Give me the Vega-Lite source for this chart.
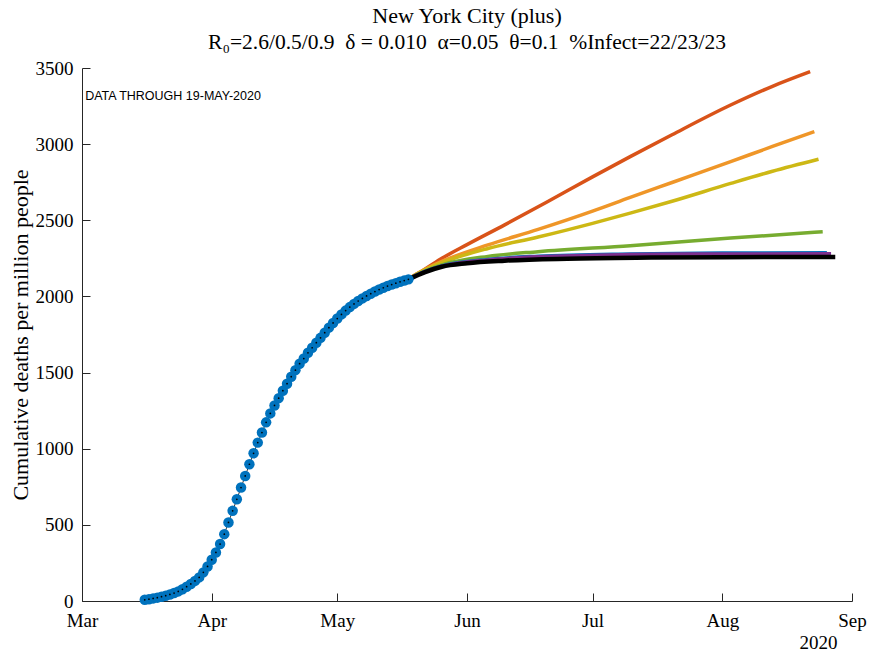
{
  "$schema": "https://vega.github.io/schema/vega-lite/v6.json",
  "width": 770,
  "height": 533,
  "autosize": "none",
  "padding": {"left": 82, "top": 68, "right": 19, "bottom": 53},
  "background": "white",
  "config": {"view": {"stroke": null}, "axis": {"grid": false}},
  "title": {
    "text": "New York City (plus)",
    "subtitle": "R₀=2.6/0.5/0.9\u00a0\u00a0δ = 0.010\u00a0\u00a0α=0.05\u00a0\u00a0θ=0.1\u00a0\u00a0%Infect=22/23/23",
    "font": "Liberation Serif",
    "fontSize": 22,
    "fontWeight": "normal",
    "color": "black",
    "subtitleFont": "Liberation Serif",
    "subtitleFontSize": 21.5,
    "subtitleColor": "black",
    "subtitlePadding": 4,
    "anchor": "middle",
    "offset": 5
  },
  "datasets": {
    "obs": [
      {"date": "2020-03-16T00:00:00", "value": 8},
      {"date": "2020-03-17T00:00:00", "value": 12},
      {"date": "2020-03-18T00:00:00", "value": 17},
      {"date": "2020-03-19T00:00:00", "value": 22},
      {"date": "2020-03-20T00:00:00", "value": 28},
      {"date": "2020-03-21T00:00:00", "value": 35},
      {"date": "2020-03-22T00:00:00", "value": 43},
      {"date": "2020-03-23T00:00:00", "value": 52},
      {"date": "2020-03-24T00:00:00", "value": 63},
      {"date": "2020-03-25T00:00:00", "value": 77},
      {"date": "2020-03-26T00:00:00", "value": 94},
      {"date": "2020-03-27T00:00:00", "value": 112},
      {"date": "2020-03-28T00:00:00", "value": 132},
      {"date": "2020-03-29T00:00:00", "value": 155},
      {"date": "2020-03-30T00:00:00", "value": 188},
      {"date": "2020-03-31T00:00:00", "value": 227},
      {"date": "2020-04-01T00:00:00", "value": 271},
      {"date": "2020-04-02T00:00:00", "value": 319},
      {"date": "2020-04-03T00:00:00", "value": 374},
      {"date": "2020-04-04T00:00:00", "value": 439},
      {"date": "2020-04-05T00:00:00", "value": 516},
      {"date": "2020-04-06T00:00:00", "value": 592},
      {"date": "2020-04-07T00:00:00", "value": 668},
      {"date": "2020-04-08T00:00:00", "value": 745},
      {"date": "2020-04-09T00:00:00", "value": 821},
      {"date": "2020-04-10T00:00:00", "value": 898},
      {"date": "2020-04-11T00:00:00", "value": 970},
      {"date": "2020-04-12T00:00:00", "value": 1040},
      {"date": "2020-04-13T00:00:00", "value": 1106},
      {"date": "2020-04-14T00:00:00", "value": 1173},
      {"date": "2020-04-15T00:00:00", "value": 1232},
      {"date": "2020-04-16T00:00:00", "value": 1284},
      {"date": "2020-04-17T00:00:00", "value": 1332},
      {"date": "2020-04-18T00:00:00", "value": 1381},
      {"date": "2020-04-19T00:00:00", "value": 1427},
      {"date": "2020-04-20T00:00:00", "value": 1473},
      {"date": "2020-04-21T00:00:00", "value": 1516},
      {"date": "2020-04-22T00:00:00", "value": 1558},
      {"date": "2020-04-23T00:00:00", "value": 1592},
      {"date": "2020-04-24T00:00:00", "value": 1630},
      {"date": "2020-04-25T00:00:00", "value": 1663},
      {"date": "2020-04-26T00:00:00", "value": 1696},
      {"date": "2020-04-27T00:00:00", "value": 1728},
      {"date": "2020-04-28T00:00:00", "value": 1762},
      {"date": "2020-04-29T00:00:00", "value": 1795},
      {"date": "2020-04-30T00:00:00", "value": 1826},
      {"date": "2020-05-01T00:00:00", "value": 1855},
      {"date": "2020-05-02T00:00:00", "value": 1882},
      {"date": "2020-05-03T00:00:00", "value": 1907},
      {"date": "2020-05-04T00:00:00", "value": 1930},
      {"date": "2020-05-05T00:00:00", "value": 1951},
      {"date": "2020-05-06T00:00:00", "value": 1970},
      {"date": "2020-05-07T00:00:00", "value": 1987},
      {"date": "2020-05-08T00:00:00", "value": 2003},
      {"date": "2020-05-09T00:00:00", "value": 2018},
      {"date": "2020-05-10T00:00:00", "value": 2032},
      {"date": "2020-05-11T00:00:00", "value": 2045},
      {"date": "2020-05-12T00:00:00", "value": 2057},
      {"date": "2020-05-13T00:00:00", "value": 2068},
      {"date": "2020-05-14T00:00:00", "value": 2078},
      {"date": "2020-05-15T00:00:00", "value": 2087},
      {"date": "2020-05-16T00:00:00", "value": 2096},
      {"date": "2020-05-17T00:00:00", "value": 2104},
      {"date": "2020-05-18T00:00:00", "value": 2112}
    ],
    "proj": [
      {"scenario": "s1", "date": "2020-05-18T00:00:00", "value": 2115},
      {"scenario": "s1", "date": "2020-05-22T00:00:00", "value": 2180},
      {"scenario": "s1", "date": "2020-05-26T00:00:00", "value": 2250},
      {"scenario": "s1", "date": "2020-06-01T00:00:00", "value": 2340},
      {"scenario": "s1", "date": "2020-06-10T00:00:00", "value": 2470},
      {"scenario": "s1", "date": "2020-06-20T00:00:00", "value": 2618},
      {"scenario": "s1", "date": "2020-07-01T00:00:00", "value": 2785},
      {"scenario": "s1", "date": "2020-07-10T00:00:00", "value": 2918},
      {"scenario": "s1", "date": "2020-07-20T00:00:00", "value": 3062},
      {"scenario": "s1", "date": "2020-08-03T00:00:00", "value": 3257},
      {"scenario": "s1", "date": "2020-08-13T00:00:00", "value": 3380},
      {"scenario": "s1", "date": "2020-08-22T00:00:00", "value": 3476},
      {"scenario": "s2", "date": "2020-05-18T00:00:00", "value": 2115},
      {"scenario": "s2", "date": "2020-05-22T00:00:00", "value": 2178},
      {"scenario": "s2", "date": "2020-05-26T00:00:00", "value": 2230},
      {"scenario": "s2", "date": "2020-06-06T00:00:00", "value": 2338},
      {"scenario": "s2", "date": "2020-06-18T00:00:00", "value": 2440},
      {"scenario": "s2", "date": "2020-07-01T00:00:00", "value": 2560},
      {"scenario": "s2", "date": "2020-07-10T00:00:00", "value": 2650},
      {"scenario": "s2", "date": "2020-07-20T00:00:00", "value": 2748},
      {"scenario": "s2", "date": "2020-08-03T00:00:00", "value": 2885},
      {"scenario": "s2", "date": "2020-08-13T00:00:00", "value": 2985},
      {"scenario": "s2", "date": "2020-08-23T00:00:00", "value": 3082},
      {"scenario": "s3", "date": "2020-05-18T00:00:00", "value": 2115},
      {"scenario": "s3", "date": "2020-05-22T00:00:00", "value": 2175},
      {"scenario": "s3", "date": "2020-05-26T00:00:00", "value": 2222},
      {"scenario": "s3", "date": "2020-06-06T00:00:00", "value": 2315},
      {"scenario": "s3", "date": "2020-06-18T00:00:00", "value": 2390},
      {"scenario": "s3", "date": "2020-07-01T00:00:00", "value": 2480},
      {"scenario": "s3", "date": "2020-07-10T00:00:00", "value": 2547},
      {"scenario": "s3", "date": "2020-07-20T00:00:00", "value": 2625},
      {"scenario": "s3", "date": "2020-08-03T00:00:00", "value": 2742},
      {"scenario": "s3", "date": "2020-08-13T00:00:00", "value": 2822},
      {"scenario": "s3", "date": "2020-08-24T00:00:00", "value": 2901},
      {"scenario": "s4", "date": "2020-05-18T00:00:00", "value": 2115},
      {"scenario": "s4", "date": "2020-05-22T00:00:00", "value": 2168},
      {"scenario": "s4", "date": "2020-05-26T00:00:00", "value": 2207},
      {"scenario": "s4", "date": "2020-06-06T00:00:00", "value": 2263},
      {"scenario": "s4", "date": "2020-06-18T00:00:00", "value": 2294},
      {"scenario": "s4", "date": "2020-07-10T00:00:00", "value": 2333},
      {"scenario": "s4", "date": "2020-08-03T00:00:00", "value": 2383},
      {"scenario": "s4", "date": "2020-08-25T00:00:00", "value": 2425},
      {"scenario": "s5", "date": "2020-05-18T00:00:00", "value": 2115},
      {"scenario": "s5", "date": "2020-05-22T00:00:00", "value": 2165},
      {"scenario": "s5", "date": "2020-05-26T00:00:00", "value": 2200},
      {"scenario": "s5", "date": "2020-06-06T00:00:00", "value": 2243},
      {"scenario": "s5", "date": "2020-06-18T00:00:00", "value": 2264},
      {"scenario": "s5", "date": "2020-07-10T00:00:00", "value": 2279},
      {"scenario": "s5", "date": "2020-08-01T00:00:00", "value": 2285},
      {"scenario": "s5", "date": "2020-08-26T00:00:00", "value": 2287},
      {"scenario": "s6", "date": "2020-05-18T00:00:00", "value": 2115},
      {"scenario": "s6", "date": "2020-05-22T00:00:00", "value": 2163},
      {"scenario": "s6", "date": "2020-05-26T00:00:00", "value": 2198},
      {"scenario": "s6", "date": "2020-06-06T00:00:00", "value": 2240},
      {"scenario": "s6", "date": "2020-06-18T00:00:00", "value": 2261},
      {"scenario": "s6", "date": "2020-07-10T00:00:00", "value": 2275},
      {"scenario": "s6", "date": "2020-08-01T00:00:00", "value": 2279},
      {"scenario": "s6", "date": "2020-08-27T00:00:00", "value": 2280}
    ],
    "fit": [
      {"date": "2020-05-18T00:00:00", "value": 2112},
      {"date": "2020-05-22T00:00:00", "value": 2160},
      {"date": "2020-05-26T00:00:00", "value": 2195},
      {"date": "2020-06-01T00:00:00", "value": 2218},
      {"date": "2020-06-10T00:00:00", "value": 2235},
      {"date": "2020-06-25T00:00:00", "value": 2248},
      {"date": "2020-07-15T00:00:00", "value": 2255},
      {"date": "2020-08-01T00:00:00", "value": 2258},
      {"date": "2020-08-28T00:00:00", "value": 2259}
    ]
  },
  "layer": [
    {
      "data": {"name": "proj"},
      "mark": {"type": "line", "strokeWidth": 3.5, "interpolate": "monotone", "strokeCap": "butt"},
      "encoding": {
        "x": {
          "field": "date",
          "type": "temporal",
          "scale": {"domain": [{"year": 2020, "month": 3, "date": 1}, {"year": 2020, "month": 9, "date": 1}]},
          "axis": {
            "title": "2020",
            "format": "%b",
            "tickCount": {"interval": "month", "step": 1},
            "labelFont": "Liberation Serif",
            "labelFontSize": 19,
            "labelColor": "black",
            "labelPadding": 18,
            "labelFlush": false,
            "labelOverlap": false,
            "tickSize": -8,
            "tickColor": "#262626",
            "domainColor": "#262626",
            "titleFont": "Liberation Serif",
            "titleFontSize": 19,
            "titleFontWeight": "normal",
            "titleColor": "black",
            "titleX": 736,
            "titleY": 32,
            "titleAlign": "center",
            "titleBaseline": "top"
          }
        },
        "y": {
          "field": "value",
          "type": "quantitative",
          "scale": {"domain": [0, 3500], "nice": false},
          "axis": {
            "title": "Cumulative deaths per million people",
            "values": [0, 500, 1000, 1500, 2000, 2500, 3000, 3500],
            "format": "d",
            "labelFont": "Liberation Serif",
            "labelFontSize": 19,
            "labelColor": "black",
            "labelPadding": 17,
            "tickSize": -8,
            "tickColor": "#262626",
            "domainColor": "#262626",
            "titleFont": "Liberation Serif",
            "titleFontSize": 22,
            "titleFontWeight": "normal",
            "titleColor": "black",
            "titlePadding": 3
          }
        },
        "color": {
          "field": "scenario",
          "type": "nominal",
          "scale": {"domain": ["s1", "s2", "s3", "s4", "s5", "s6"], "range": ["#D95319", "#EF9628", "#CDB815", "#77AC30", "#0072BD", "#7E2F8E"]},
          "legend": null
        }
      }
    },
    {
      "data": {"name": "fit"},
      "mark": {"type": "line", "strokeWidth": 4.5, "interpolate": "monotone", "strokeCap": "butt", "color": "black"},
      "encoding": {
        "x": {"field": "date", "type": "temporal"},
        "y": {"field": "value", "type": "quantitative"}
      }
    },
    {
      "data": {"name": "obs"},
      "mark": {"type": "line", "strokeWidth": 0.8, "color": "black"},
      "encoding": {
        "x": {"field": "date", "type": "temporal"},
        "y": {"field": "value", "type": "quantitative"}
      }
    },
    {
      "data": {"name": "obs"},
      "mark": {"type": "point", "shape": "circle", "filled": true, "size": 110, "color": "#0072BD", "opacity": 1},
      "encoding": {
        "x": {"field": "date", "type": "temporal"},
        "y": {"field": "value", "type": "quantitative"}
      }
    },
    {
      "data": {"name": "obs"},
      "mark": {"type": "point", "shape": "circle", "filled": true, "size": 3, "color": "black", "opacity": 1},
      "encoding": {
        "x": {"field": "date", "type": "temporal"},
        "y": {"field": "value", "type": "quantitative"}
      }
    },
    {
      "data": {"values": [{"label": "DATA THROUGH 19-MAY-2020"}]},
      "mark": {"type": "text", "font": "Liberation Sans", "fontSize": 12.5, "align": "left", "baseline": "middle", "color": "black"},
      "encoding": {
        "x": {"datum": {"year": 2020, "month": 3, "date": 1, "hours": 18}, "type": "temporal"},
        "y": {"datum": 3316, "type": "quantitative"},
        "text": {"field": "label"}
      }
    }
  ]
}
